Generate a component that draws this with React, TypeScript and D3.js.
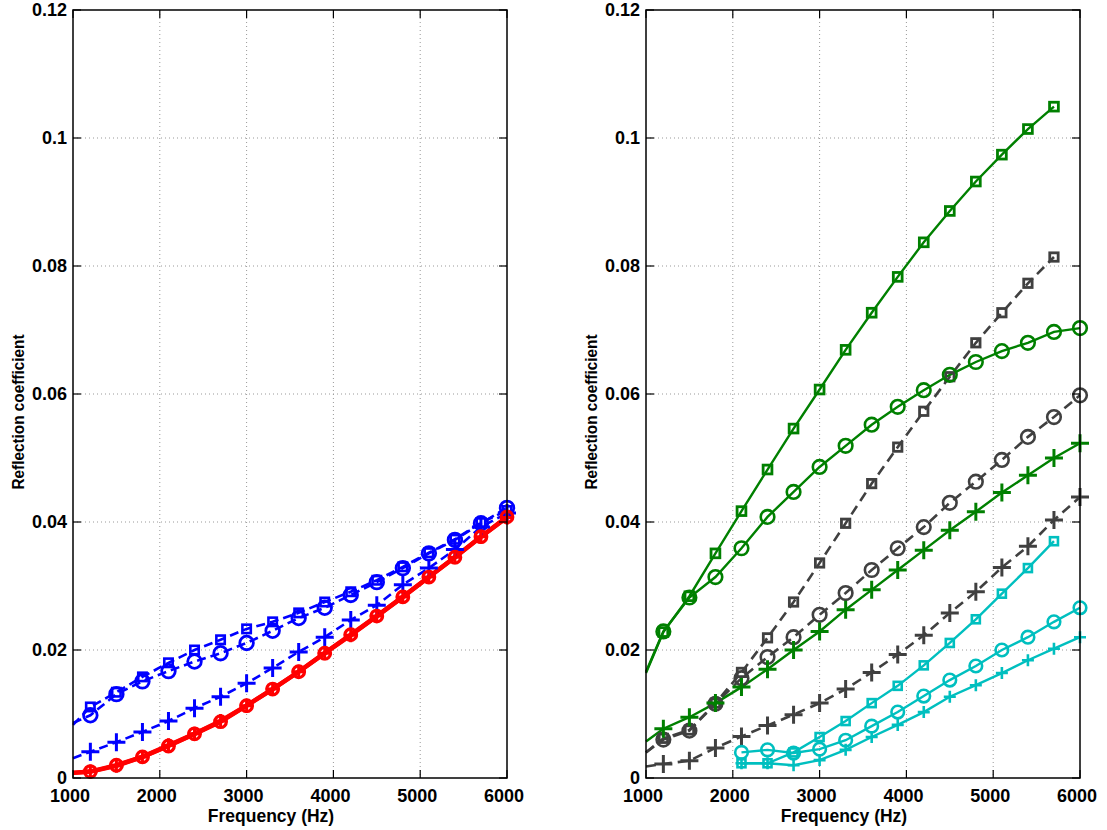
import { scaleLinear, line } from "d3";

const W = 1107;
const H = 830;

// frequency grids (first point at 1000 has no marker)
const freqFull = [1000, 1200, 1500, 1800, 2100, 2400, 2700, 3000, 3300, 3600, 3900, 4200, 4500, 4800, 5100, 5400, 5700, 6000];
const freqTo5700 = [1000, 1200, 1500, 1800, 2100, 2400, 2700, 3000, 3300, 3600, 3900, 4200, 4500, 4800, 5100, 5400, 5700];
const freqCyan = [2100, 2400, 2700, 3000, 3300, 3600, 3900, 4200, 4500, 4800, 5100, 5400, 5700, 6000];
const freqCyanSq = [2100, 2400, 2700, 3000, 3300, 3600, 3900, 4200, 4500, 4800, 5100, 5400, 5700];

const xTicks = [1000, 2000, 3000, 4000, 5000, 6000];
const yTicks = [0, 0.02, 0.04, 0.06, 0.08, 0.1, 0.12];
const yTickLabels = ["0", "0.02", "0.04", "0.06", "0.08", "0.1", "0.12"];

// left panel
const blueSquare = [0.0083, 0.0111, 0.0134, 0.0158, 0.018, 0.02, 0.0216, 0.0233, 0.0244, 0.0258, 0.0275, 0.0291, 0.0309, 0.033, 0.0352, 0.0373, 0.0399, 0.0418];
const blueCircle = [0.0086, 0.0098, 0.0131, 0.0151, 0.0167, 0.0182, 0.0195, 0.0211, 0.023, 0.025, 0.0266, 0.0286, 0.0306, 0.0328, 0.0351, 0.0372, 0.0398, 0.0422];
const bluePlus = [0.0031, 0.0041, 0.0056, 0.0072, 0.0089, 0.0109, 0.0127, 0.0148, 0.0172, 0.0197, 0.022, 0.0247, 0.027, 0.0302, 0.0328, 0.0357, 0.0392, 0.0414];
const redCircle = [0.0008, 0.001, 0.002, 0.0033, 0.005, 0.0069, 0.0088, 0.0113, 0.0139, 0.0166, 0.0195, 0.0224, 0.0253, 0.0283, 0.0314, 0.0345, 0.0377, 0.0408];
const redPlus = [0.0008, 0.001, 0.0019, 0.0033, 0.0051, 0.0069, 0.0089, 0.0113, 0.0139, 0.0166, 0.0195, 0.0223, 0.0253, 0.0283, 0.0314, 0.0345, 0.0377, 0.0407];

// right panel
const greenSquare = [0.0164, 0.0228, 0.0284, 0.0351, 0.0417, 0.0482, 0.0546, 0.0607, 0.0669, 0.0727, 0.0783, 0.0837, 0.0886, 0.0932, 0.0974, 0.1014, 0.1049];
const greenCircle = [0.0166, 0.0229, 0.0282, 0.0314, 0.0359, 0.0408, 0.0447, 0.0486, 0.0519, 0.0552, 0.058, 0.0606, 0.063, 0.065, 0.0667, 0.068, 0.0697, 0.0703];
const greenPlus = [0.0057, 0.0077, 0.0095, 0.0117, 0.0142, 0.017, 0.02, 0.0229, 0.0263, 0.0294, 0.0325, 0.0356, 0.0387, 0.0416, 0.0446, 0.0473, 0.05, 0.0523];
const graySquare = [0.004, 0.0062, 0.0075, 0.0117, 0.0165, 0.0219, 0.0275, 0.0336, 0.0398, 0.046, 0.0517, 0.0573, 0.0627, 0.068, 0.0727, 0.0773, 0.0814];
const grayCircle = [0.004, 0.006, 0.0074, 0.0116, 0.0156, 0.0189, 0.022, 0.0255, 0.0289, 0.0325, 0.0359, 0.0392, 0.043, 0.0463, 0.0497, 0.0533, 0.0564, 0.0598];
const grayPlus = [0.0018, 0.0022, 0.0027, 0.0047, 0.0065, 0.0082, 0.0099, 0.0117, 0.0139, 0.0165, 0.0193, 0.0223, 0.0258, 0.0291, 0.0329, 0.0362, 0.0403, 0.0439];
const cyanSquare = [0.0023, 0.0023, 0.004, 0.0064, 0.0089, 0.0117, 0.0144, 0.0176, 0.0211, 0.0248, 0.0288, 0.0328, 0.037];
const cyanCircle = [0.004, 0.0044, 0.0039, 0.0045, 0.0059, 0.0081, 0.0103, 0.0128, 0.0153, 0.0175, 0.02, 0.022, 0.0244, 0.0266];
const cyanPlus = [0.0023, 0.0023, 0.002, 0.0028, 0.0044, 0.0064, 0.0083, 0.0103, 0.0127, 0.0145, 0.0164, 0.0184, 0.0202, 0.022];

const BLUE = "#0000ff";
const RED = "#ff0000";
const GREEN = "#008000";
const GRAY = "#404040";
const CYAN = "#00bfbf";

type Series = {
  x: number[];
  y: number[];
  color: string;
  marker: "o" | "s" | "+";
  width: number;
  dash?: string;
  size: number;
  mw: number;
};

const leftSeries: Series[] = [
  { x: freqFull, y: blueSquare, color: BLUE, marker: "s", width: 2.6, dash: "9,5", size: 4.2, mw: 2.6 },
  { x: freqFull, y: blueCircle, color: BLUE, marker: "o", width: 2.6, dash: "9,5", size: 6.8, mw: 2.8 },
  { x: freqFull, y: bluePlus, color: BLUE, marker: "+", width: 2.6, dash: "9,5", size: 9, mw: 3 },
  { x: freqFull, y: redPlus, color: RED, marker: "+", width: 4.5, size: 7, mw: 3 },
  { x: freqFull, y: redCircle, color: RED, marker: "o", width: 4.5, size: 5.8, mw: 3.2 },
];

const rightSeries: Series[] = [
  { x: freqFull, y: grayPlus, color: GRAY, marker: "+", width: 2.6, dash: "10,6", size: 9, mw: 3 },
  { x: freqFull, y: grayCircle, color: GRAY, marker: "o", width: 2.6, dash: "10,6", size: 6.8, mw: 2.6 },
  { x: freqTo5700, y: graySquare, color: GRAY, marker: "s", width: 2.6, dash: "10,6", size: 4.2, mw: 2.8 },
  { x: freqFull, y: greenPlus, color: GREEN, marker: "+", width: 2.4, size: 9, mw: 3 },
  { x: freqFull, y: greenCircle, color: GREEN, marker: "o", width: 2.4, size: 6.8, mw: 2.6 },
  { x: freqTo5700, y: greenSquare, color: GREEN, marker: "s", width: 2.4, size: 4.4, mw: 2.8 },
  { x: freqCyan, y: cyanPlus, color: CYAN, marker: "+", width: 2.4, size: 6, mw: 2.6 },
  { x: freqCyan, y: cyanCircle, color: CYAN, marker: "o", width: 2.4, size: 6.3, mw: 2.6 },
  { x: freqCyanSq, y: cyanSquare, color: CYAN, marker: "s", width: 2.4, size: 4, mw: 2.6 },
];

const TOP = 10;
const BOTTOM = 778;
const FONT = "'Liberation Sans', Arial, sans-serif";

function Marker({ kind, cx, cy, size, color, sw }: { kind: string; cx: number; cy: number; size: number; color: string; sw: number }) {
  if (kind === "o") return <circle cx={cx} cy={cy} r={size} fill="none" stroke={color} strokeWidth={sw} />;
  if (kind === "s")
    return <rect x={cx - size} y={cy - size} width={size * 2} height={size * 2} fill="none" stroke={color} strokeWidth={sw} />;
  return (
    <path d={`M${cx - size},${cy}H${cx + size}M${cx},${cy - size}V${cy + size}`} stroke={color} strokeWidth={sw} fill="none" />
  );
}

function Panel({ left, right, series }: { left: number; right: number; series: Series[] }) {
  const x = scaleLinear().domain([1000, 6000]).range([left, right]);
  const y = scaleLinear().domain([0, 0.12]).range([BOTTOM, TOP]);
  const path = line<[number, number]>()
    .x((d) => x(d[0]))
    .y((d) => y(d[1]));

  return (
    <g>
      {/* dotted grid */}
      {xTicks.slice(1, -1).map((t) => (
        <line key={`gx${t}`} x1={x(t)} x2={x(t)} y1={TOP} y2={BOTTOM} stroke="#999" strokeWidth={1} strokeDasharray="1,3" />
      ))}
      {yTicks.slice(1, -1).map((t) => (
        <line key={`gy${t}`} x1={left} x2={right} y1={y(t)} y2={y(t)} stroke="#999" strokeWidth={1} strokeDasharray="1,3" />
      ))}

      {series.map((s, i) => (
        <path
          key={`l${i}`}
          d={path(s.x.map((f, k) => [f, s.y[k]] as [number, number])) ?? ""}
          fill="none"
          stroke={s.color}
          strokeWidth={s.width}
          strokeDasharray={s.dash}
        />
      ))}
      {series.map((s, i) =>
        s.x.map((f, k) =>
          f === 1000 ? null : (
            <Marker key={`m${i}-${k}`} kind={s.marker} cx={x(f)} cy={y(s.y[k])} size={s.size} color={s.color} sw={s.mw} />
          )
        )
      )}

      {/* box and inward ticks */}
      <rect x={left} y={TOP} width={right - left} height={BOTTOM - TOP} fill="none" stroke="#000" strokeWidth={1.5} />
      {xTicks.map((t) => (
        <g key={`tx${t}`}>
          <line x1={x(t)} x2={x(t)} y1={BOTTOM} y2={BOTTOM - 8} stroke="#000" strokeWidth={1.2} />
          <line x1={x(t)} x2={x(t)} y1={TOP} y2={TOP + 8} stroke="#000" strokeWidth={1.2} />
          <text x={x(t) - 3} y={BOTTOM + 24} textAnchor="middle" fontFamily={FONT} fontWeight="bold" fontSize={18}>
            {t}
          </text>
        </g>
      ))}
      {yTicks.map((t, i) => (
        <g key={`ty${t}`}>
          <line x1={left} x2={left + 8} y1={y(t)} y2={y(t)} stroke="#000" strokeWidth={1.2} />
          <line x1={right} x2={right - 8} y1={y(t)} y2={y(t)} stroke="#000" strokeWidth={1.2} />
          <text x={left - 6} y={y(t) + 6} textAnchor="end" fontFamily={FONT} fontWeight="bold" fontSize={18}>
            {yTickLabels[i]}
          </text>
        </g>
      ))}
      <text
        x={(left + right) / 2 - 19}
        y={BOTTOM + 44}
        textAnchor="middle"
        fontFamily={FONT}
        fontWeight="bold"
        fontSize={17.5}
      >
        Frequency (Hz)
      </text>
      <text
        transform={`translate(${left - 49},412) rotate(-90)`}
        textAnchor="middle"
        fontFamily={FONT}
        fontWeight="bold"
        fontSize={17}
        textLength={155}
        lengthAdjust="spacingAndGlyphs"
      >
        Reflection coefficient
      </text>
    </g>
  );
}

export default function App() {
  return (
    <svg width={W} height={H} style={{ position: "absolute", left: 0, top: 0, background: "#fff" }}>
      <Panel left={73} right={507} series={leftSeries} />
      <Panel left={646} right={1080} series={rightSeries} />
    </svg>
  );
}
